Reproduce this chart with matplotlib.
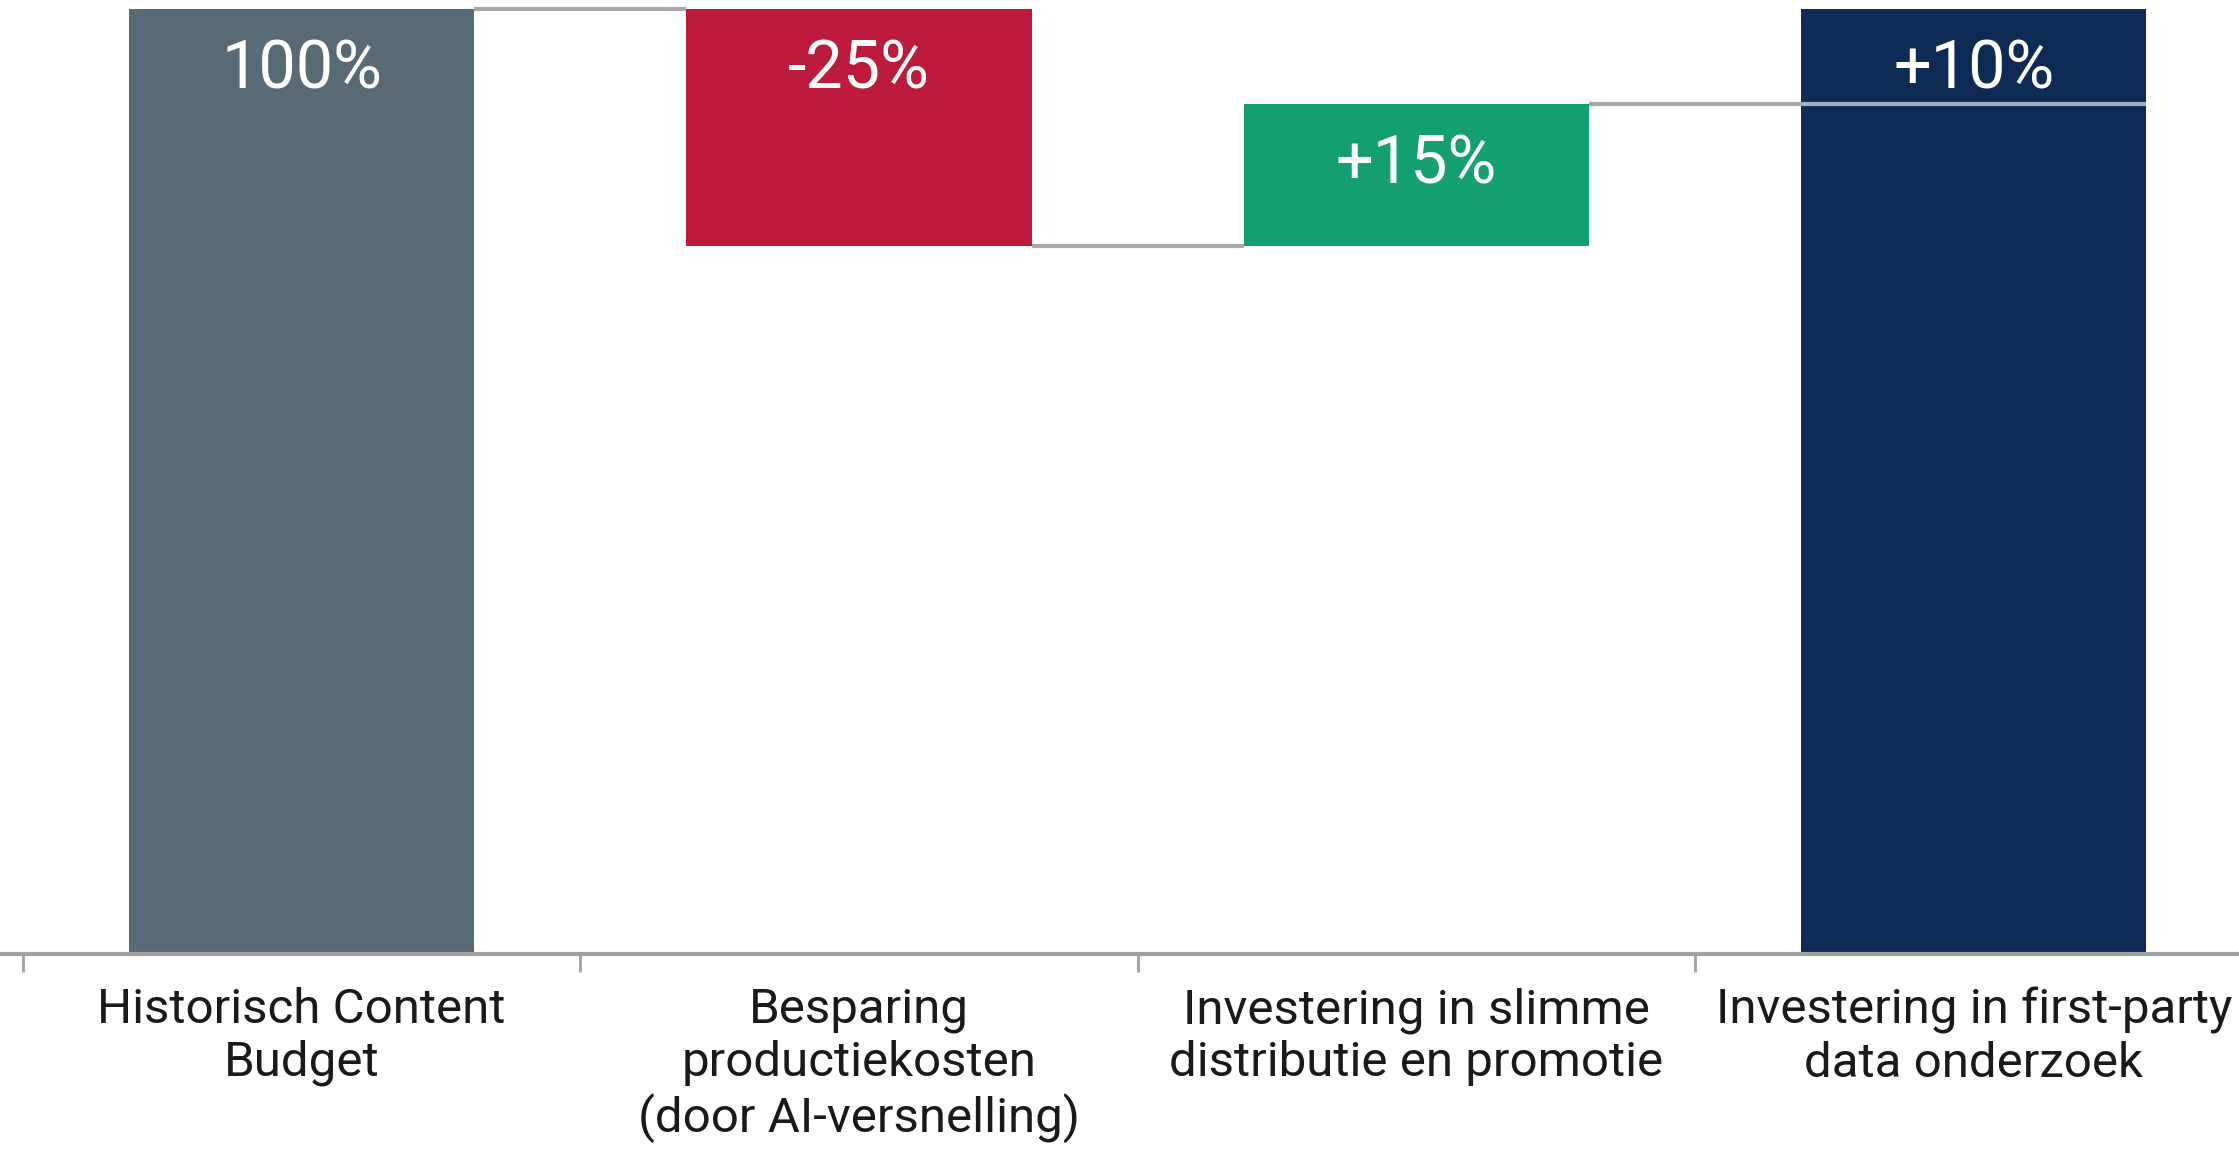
import matplotlib
matplotlib.use('agg')
import matplotlib.pyplot as plt
import numpy as np

# Data
categories = [
    "Historisch Content\nBudget",
    "Besparing\nproductiekosten\n(door AI-versnelling)",
    "Investering in slimme\ndistributie en promotie",
    "Investering in first-party\ndata onderzoek",
]
changes = [100, -25, 15, 10]
value_labels = ["100%", "-25%", "+15%", "+10%"]
colors = ["#596a77", "#bd1b3b", "#14a070", "#0d2b55"]

plt.rcParams['font.family'] = ['Roboto', 'DejaVu Sans']

fig = plt.figure(figsize=(22.39, 11.54), dpi=100)
ax = fig.add_axes([0, 0.1733, 1, 0.8267])

# running totals for the waterfall
level = np.cumsum(changes)
starts = [0, level[0], level[1], 0]
heights = [changes[0], changes[1], changes[2], level[3]]
x = np.arange(len(categories))
width = 0.62

ax.bar(x, heights, bottom=starts, width=width, color=colors, zorder=2)

# connectors between bars
for i in range(len(categories) - 1):
    ax.plot([x[i] + width / 2, x[i + 1] - width / 2], [level[i], level[i]],
            color="#a8a8a8", lw=3, zorder=1, solid_capstyle='butt')
# separator inside the final bar at the previous level
ax.plot([x[3] - width / 2, x[3] + width / 2], [level[2], level[2]],
        color="#9fb0c6", lw=3, zorder=3, solid_capstyle='butt')

# value labels near the top of each step
tops = [max(s, s + h) for s, h in zip(starts, heights)]
for xi, top, lab in zip(x, tops, value_labels):
    ax.annotate(lab, (xi, top), xytext=(0, -44), textcoords='offset points',
                ha='center', va='center', color='white', fontsize=48,
                zorder=4)

ax.set_xlim(-0.541, 3.476)
ax.set_ylim(0, 101)

for s in ['top', 'left', 'right']:
    ax.spines[s].set_visible(False)
ax.spines['bottom'].set_color('#a0a0a0')
ax.spines['bottom'].set_linewidth(3)
ax.set_yticks([])

ax.set_xticks(x)
ax.set_xticklabels(categories, fontsize=35.5, color='#1a1a1a', linespacing=1.18)
ax.tick_params(axis='x', which='major', length=0, pad=24)
ax.set_xticks([-0.5, 0.5, 1.5, 2.5], minor=True)
ax.tick_params(axis='x', which='minor', length=13, width=2, color='#a0a0a0')

fig.savefig("out.png", dpi=100, facecolor='white')
